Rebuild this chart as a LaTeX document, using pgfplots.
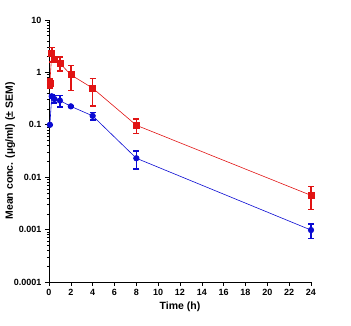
\documentclass[border=0pt]{standalone}
\usepackage{fontspec}
\setmainfont{Liberation Sans}
\usepackage{pgfplots}
\pgfplotsset{compat=1.18}
\definecolor{myred}{RGB}{225,20,20}
\definecolor{myblue}{RGB}{10,10,210}
\begin{document}
\begin{tikzpicture}
\path[use as bounding box] (-49pt,-44pt) rectangle (302pt,282pt);
\begin{axis}[
  at={(0,0)}, anchor=south west,
  scale only axis, width=262pt, height=262pt,
  ymode=log, xmin=0, xmax=24, ymin=0.0001, ymax=10,
  axis lines=left, axis line style={-, line width=0.8pt},
  tick align=outside, major tick length=4pt, minor tick length=2pt,
  tick style={line width=0.6pt, black},
  xtick={0,2,...,24},
  ytick={0.0001,0.001,0.01,0.1,1,10},
  yticklabels={0.0001,0.001,0.01,0.1,1,10},
  /pgf/number format/assume math mode=true,
  ticklabel style={font=\fontsize{9}{10}\selectfont\bfseries},
  xlabel={Time (h)}, ylabel={Mean conc. (µg/ml) (± SEM)},
  label style={font=\fontsize{10.5}{12}\selectfont\bfseries},
  xlabel style={yshift=1pt},
  ylabel style={yshift=-8pt},
  clip=false,
]
\addplot+[myred, line width=0.6pt, mark=square*, mark size=3pt, mark options={solid, fill=myred, draw=myred},
  error bars/.cd, y dir=both, y explicit,
  error bar style={line width=1.6pt, myred},
  error mark options={rotate=90, mark size=3pt, line width=1.6pt, myred}]
  coordinates {
  (0.083,0.63) +- (0,0.12)
  (0.25,2.3) +- (0,0.7)
  (0.5,1.77) +- (0,0.2)
  (1,1.5) +- (0,0.45)
  (2,0.9) +- (0,0.45)
  (4,0.5) +- (0,0.27)
  (8,0.098) +- (0,0.03)
  (24,0.0045) +- (0,0.0021)
  };
\addplot+[myblue, line width=0.6pt, mark=*, mark size=2.8pt, mark options={solid, fill=myblue, draw=myblue},
  error bars/.cd, y dir=both, y explicit,
  error bar style={line width=1.6pt, myblue},
  error mark options={rotate=90, mark size=3pt, line width=1.6pt, myblue}]
  coordinates {
  (0.083,0.1) +- (0,0)
  (0.25,0.35) +- (0,0.03)
  (0.5,0.31) +- (0,0.05)
  (1,0.29) +- (0,0.07)
  (2,0.225) +- (0,0.01)
  (4,0.148) +- (0,0.025)
  (8,0.023) +- (0,0.0085)
  (24,0.00098) +- (0,0.0003)
  };
\end{axis}
\end{tikzpicture}
\end{document}
